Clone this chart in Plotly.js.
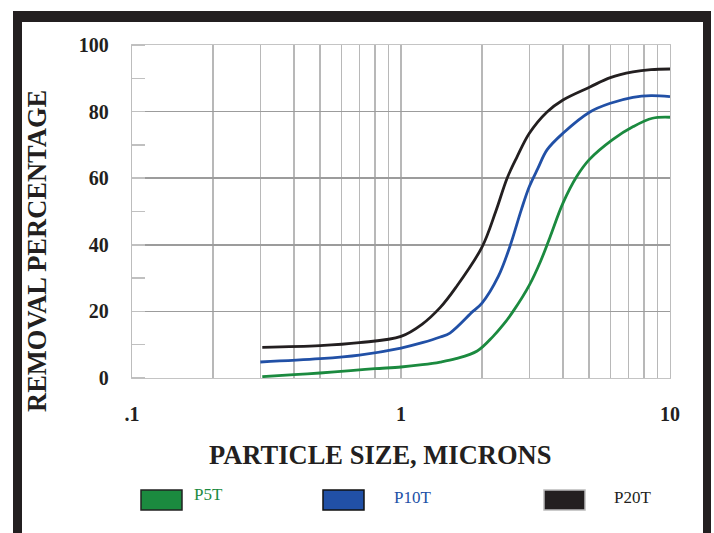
<!DOCTYPE html>
<html>
<head>
<meta charset="utf-8">
<script src="https://cdn.plot.ly/plotly-3.0.1.min.js"></script>
<style>html,body{margin:0;padding:0;background:#fff;}#chart{width:714px;height:533px;}</style>
</head>
<body>
<div id="chart"></div>
<script>
// ---- data ----
const seriesNames = ['P5T', 'P10T', 'P20T'];
const seriesColors = ['#1b8a3f', '#2150a6', '#231f20'];

const x_p5t = [0.305, 0.4, 0.5, 0.65, 0.8, 1.0, 1.2, 1.4, 1.6, 1.92, 2.2, 2.4, 2.61, 3.0, 3.3, 3.58, 4.0, 4.5, 5.0, 6.1, 7.3, 8.6, 10];
const y_p5t = [0.4, 1.0, 1.5, 2.2, 2.8, 3.3, 4.0, 4.8, 5.8, 8.1, 12.5, 16, 20, 27.9, 35, 42.3, 52.5, 60.5, 65.5, 71.5, 75.5, 78, 78.3];

const x_p10t = [0.3, 0.5, 0.7, 1.0, 1.2, 1.4, 1.52, 1.85, 2.0, 2.3, 2.54, 2.8, 3.0, 3.23, 3.49, 4.0, 5.04, 6.0, 7.28, 8.5, 10];
const y_p10t = [4.8, 5.8, 6.9, 9.0, 10.6, 12.3, 13.5, 20, 22.5, 30.5, 39.5, 50.5, 57.5, 63, 68.5, 73.5, 79.9, 82.5, 84.3, 84.8, 84.5];

const x_p20t = [0.305, 0.5, 0.7, 1.0, 1.2, 1.4, 1.6, 2.0, 2.25, 2.48, 2.7, 3.0, 3.49, 4.0, 5.04, 6.0, 7.28, 8.5, 10];
const y_p20t = [9.2, 9.7, 10.6, 12.5, 16.2, 21.2, 27.2, 39.3, 50, 60, 66.4, 73.5, 79.9, 83.5, 87.4, 90.2, 91.9, 92.6, 92.8];

const xTickVals = [0.1,0.2,0.3,0.4,0.5,0.6,0.7,0.8,0.9,1,2,3,4,5,6,7,8,9,10];
const xTickText = ['.1','','','','','','','','','1','','','','','','','','','10'];
const yTickVals = [0, 20, 40, 60, 80, 100];
const yTickText = ['0', '20', '40', '60', '80', '100'];

const xTitle = 'PARTICLE SIZE, MICRONS';
const yTitle = 'REMOVAL PERCENTAGE';

// ---- layout geometry ----
const W = 714, H = 533;
const L = 132, R = 670, T = 45, B = 378;
const PW = R - L, PH = B - T;
const px = v => (v - L) / PW;
const py = v => (B - v) / PH;
const serif = 'Liberation Serif, Times New Roman, serif';

const xs = [x_p5t, x_p10t, x_p20t];
const ys = [y_p5t, y_p10t, y_p20t];

const traces = seriesNames.map((n, i) => ({
  type: 'scatter', mode: 'lines', name: n,
  x: xs[i], y: ys[i],
  line: {color: seriesColors[i], width: 2.8, shape: 'spline', smoothing: 1},
  hoverinfo: 'skip'
}));

const frameColor = '#231f20';
const shapes = [
  {type:'rect', xref:'paper', yref:'paper', x0:px(13), x1:px(711), y0:py(11), y1:py(22), fillcolor:frameColor, line:{width:0}, layer:'above'},
  {type:'rect', xref:'paper', yref:'paper', x0:px(13), x1:px(22), y0:py(11), y1:py(540), fillcolor:frameColor, line:{width:0}, layer:'above'},
  {type:'rect', xref:'paper', yref:'paper', x0:px(703), x1:px(711), y0:py(11), y1:py(540), fillcolor:frameColor, line:{width:0}, layer:'above'}
];

// legend boxes and labels
const legBoxX = [141, 323, 544];
const legTextX = [192, 392, 612];
const legTextY = [494, 497, 497];
const legBorder = ['#222', '#111', '#bbb'];
const annotations = [];
seriesNames.forEach((n, i) => {
  shapes.push({type:'rect', xref:'paper', yref:'paper', x0:px(legBoxX[i]), x1:px(legBoxX[i]+41), y0:py(490), y1:py(510),
    fillcolor: seriesColors[i], line:{color: legBorder[i], width: 1.5}});
  annotations.push({xref:'paper', yref:'paper', x:px(legTextX[i]), y:py(legTextY[i]), xanchor:'left', yanchor:'middle',
    text: n, showarrow:false, font:{family: serif, size: 17, color: seriesColors[i]}});
});

annotations.push({xref:'paper', yref:'paper', x:px(380), y:py(455), xanchor:'center', yanchor:'middle',
  text: xTitle, showarrow:false, font:{family: serif, size: 26.5, color:'#231f20', weight: 'bold'}});
annotations.push({xref:'paper', yref:'paper', x:px(37), y:py(251), xanchor:'center', yanchor:'middle', textangle:-90,
  text: yTitle, showarrow:false, font:{family: serif, size: 26.5, color:'#231f20', weight: 'bold'}});

const layout = {
  width: W, height: H,
  margin: {l: L, r: W - R, t: T, b: H - B, pad: 0},
  paper_bgcolor: '#ffffff', plot_bgcolor: '#ffffff',
  showlegend: false,
  xaxis: {
    type: 'log', range: [-1, 1], fixedrange: true,
    tickvals: xTickVals, ticktext: xTickText,
    showgrid: true, gridcolor: '#b8b8b8', gridwidth: 1.2,
    showline: true, linecolor: '#c4c4c4', linewidth: 1.2, mirror: true,
    ticks: '', zeroline: false, ticklabelstandoff: 18,
    tickfont: {family: serif, size: 20, color: '#231f20', weight: 'bold'}
  },
  yaxis: {
    range: [0, 100], fixedrange: true,
    tickvals: yTickVals, ticktext: yTickText,
    showgrid: true, gridcolor: '#9c9c9c', gridwidth: 1.5,
    showline: true, linecolor: '#bdbdbd', linewidth: 1.2, mirror: true,
    ticks: '', zeroline: false, ticklabelstandoff: 18,
    tickfont: {family: serif, size: 20, color: '#231f20', weight: 'bold'},
    minor: {dtick: 10, tick0: 0, ticks: 'inside', ticklen: 13, tickwidth: 1.5, tickcolor: '#c0c0c0', showgrid: false}
  },
  shapes: shapes,
  annotations: annotations
};

Plotly.newPlot('chart', traces, layout, {staticPlot: true, displayModeBar: false});
</script>
</body>
</html>
